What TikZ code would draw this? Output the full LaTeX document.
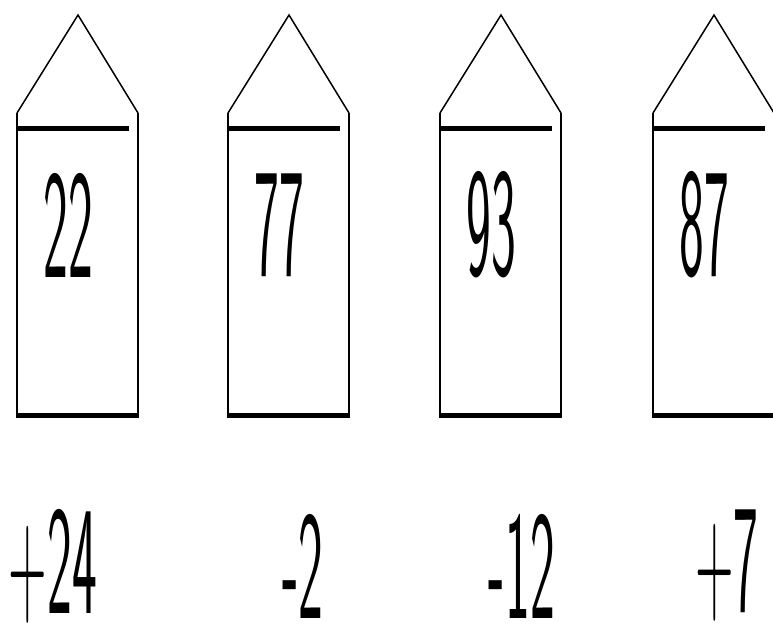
\documentclass[tikz,border=0pt]{standalone}
\usepackage{fontspec}
\begin{document}
\begin{tikzpicture}[
	x=1pt, y=-1pt,
	line cap=butt,
	line join=miter,
	wall/.style={line width=2.5pt},
	bar/.style={line width=5pt},
	roof/.style={line width=1.5pt},
	digits/.style={inner sep=0pt, xscale=0.34, font=\sffamily\fontsize{155}{155}\selectfont}
	]
	
	% Frame
	\useasboundingbox (0,0) rectangle (773,630);
	
	\foreach \x/\num/\diff/\dx [count=\i] in {17/22/+24/53, 228/77/-2/303, 440/93/-12/522, 653/87/+7/727}{
		% Roof
		\draw[roof] (\x,113) -- (\x+61,15) -- (\x+121,113);
		% Walls
		\draw[wall] (\x,113) -- (\x,415) (\x+121,113) -- (\x+121,415);
		% Ceiling and floor
		\draw[bar] (\x,128) -- (\x+112,128);
		\draw[bar] (\x-1.25,415) -- (\x+122.25,415);
		% House number and change
		\node[digits] (num\i) at (\x+51,225) {\num};
		\node[digits] (diff\i) at (\dx,566) {\diff};
	}
	
\end{tikzpicture}
\end{document}
